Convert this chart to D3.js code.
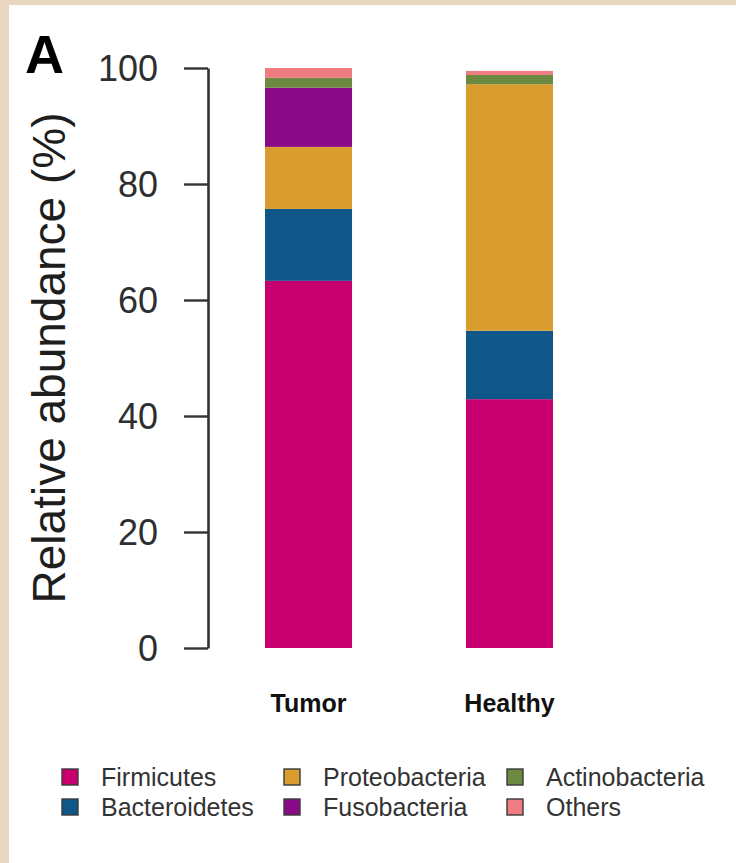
<!DOCTYPE html>
<html>
<head>
<meta charset="utf-8">
<script src="https://cdn.jsdelivr.net/npm/d3@7"></script>
<style>
  html, body { margin: 0; padding: 0; background: #e9d7bf; }
  svg { display: block; }
  text { font-family: "Liberation Sans", Arial, Helvetica, sans-serif; }
</style>
</head>
<body>
<script>
// Sample groups and phyla, bottom-to-top stacking order
const groups = ["Tumor", "Healthy"];
const phyla = ["Firmicutes", "Bacteroidetes", "Proteobacteria", "Fusobacteria", "Actinobacteria", "Others"];
const phylumColors = ["#c8006f", "#0f5689", "#d89d2e", "#890a86", "#6b8a3f", "#ee7c80"];

// Relative abundance (%) per phylum, same order as `phyla`
const tumorValues = [63.3, 12.4, 10.7, 10.2, 1.7, 1.7];
const healthyValues = [42.9, 11.8, 42.5, 0.0, 1.6, 0.7];

const yTicks = [0, 20, 40, 60, 80, 100];

const W = 736, H = 863;

const svg = d3.select("body").append("svg")
  .attr("width", W).attr("height", H);

// white panel over the beige page
svg.append("rect")
  .attr("x", 9).attr("y", 5)
  .attr("width", W - 9).attr("height", H - 5)
  .attr("fill", "#ffffff");

const y = d3.scaleLinear().domain([0, 100]).range([648, 68]);
const x = d3.scaleBand().domain(groups).range([265, 553]).paddingInner(0.567).paddingOuter(0);
const color = d3.scaleOrdinal().domain(phyla).range(phylumColors);

// build stacked table
const table = groups.map((g, gi) => {
  const vals = gi === 0 ? tumorValues : healthyValues;
  const row = { group: g };
  phyla.forEach((p, i) => { row[p] = vals[i]; });
  return row;
});
const series = d3.stack().keys(phyla)(table);

// bars
svg.append("g")
  .selectAll("g")
  .data(series)
  .join("g")
  .attr("fill", d => color(d.key))
  .selectAll("rect")
  .data(d => d)
  .join("rect")
  .attr("x", d => x(d.data.group))
  .attr("width", x.bandwidth())
  .attr("y", d => y(d[1]))
  .attr("height", d => Math.max(0, y(d[0]) - y(d[1])));

// y axis
const yAxis = d3.axisLeft(y).tickValues(yTicks).tickSize(24).tickPadding(26).tickSizeOuter(0);
const gy = svg.append("g").attr("transform", "translate(208,0)").call(yAxis);
gy.select(".domain").attr("stroke", "#333").attr("stroke-width", 2.6);
gy.selectAll(".tick line").attr("stroke", "#333").attr("stroke-width", 2.4);
gy.selectAll(".tick text")
  .attr("fill", "#2e2e2e")
  .style("font-size", "36px")
  .attr("dy", "0.36em");

// y axis title
svg.append("text")
  .attr("transform", `translate(65,${(y(0) + y(100)) / 2}) rotate(-90)`)
  .attr("text-anchor", "middle")
  .attr("fill", "#1e1e1e")
  .style("font-size", "46px")
  .text("Relative abundance (%)");

// group labels
svg.append("g")
  .selectAll("text")
  .data(groups)
  .join("text")
  .attr("x", d => x(d) + x.bandwidth() / 2)
  .attr("y", 712)
  .attr("text-anchor", "middle")
  .attr("fill", "#111")
  .style("font-size", "25px")
  .style("font-weight", "bold")
  .text(d => d);

// panel letter
svg.append("text")
  .attr("x", 25).attr("y", 73)
  .attr("fill", "#000")
  .style("font-size", "54px")
  .style("font-weight", "bold")
  .text("A");

// legend, filled column by column
const legendColX = [62, 284, 507];
const legendRowY = [777, 807];
const legend = svg.append("g")
  .selectAll("g")
  .data(phyla)
  .join("g")
  .attr("transform", (d, i) => `translate(${legendColX[Math.floor(i / 2)]},${legendRowY[i % 2]})`);

legend.append("rect")
  .attr("x", 0).attr("y", -8)
  .attr("width", 16).attr("height", 16)
  .attr("fill", d => color(d))
  .attr("stroke", "#3a3a3a")
  .attr("stroke-width", 1.4);

legend.append("text")
  .attr("x", 39).attr("y", 9)
  .attr("fill", "#333")
  .style("font-size", "25px")
  .text(d => d);
</script>
</body>
</html>
